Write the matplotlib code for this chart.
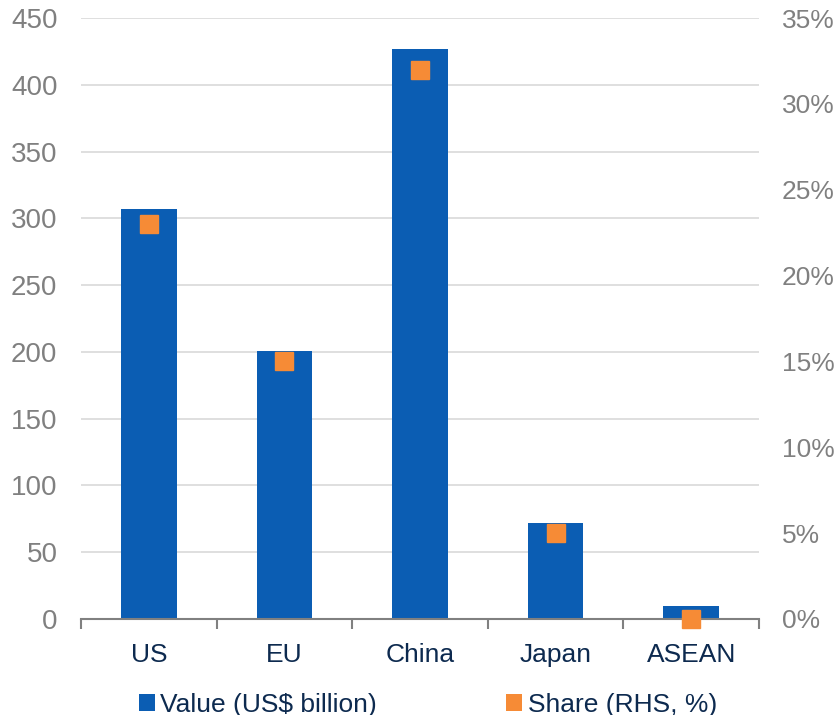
import matplotlib
matplotlib.use("Agg")
import matplotlib.pyplot as plt
from matplotlib.patches import Patch
import numpy as np

# data
categories = ['US', 'EU', 'China', 'Japan', 'ASEAN']
value_bn = [307, 201, 427, 72, 10]
share_pct = [23, 15, 32, 5, 0]

bar_color = '#0B5DB3'
share_color = '#F68B36'
grey = '#808080'
navy = '#0D2A4F'

plt.rcParams['font.family'] = ['Liberation Sans', 'DejaVu Sans']

fig = plt.figure(figsize=(8.36, 7.15), dpi=100)
W, H = 836, 715
ax = fig.add_axes([81 / W, (H - 619) / H, (759 - 81) / W, (619 - 18) / H])
ax2 = ax.twinx()

x = np.arange(len(categories))
ax.bar(x, value_bn, width=0.41, color=bar_color, zorder=2)
ax2.plot(x, share_pct, linestyle='none', marker='s', markersize=13.5,
         color=share_color, zorder=3, clip_on=False)

ax.set_xlim(-0.5, len(categories) - 0.5)
ax.set_ylim(0, 450)
ax.set_yticks(range(0, 451, 50))
ax2.set_ylim(0, 35)
ax2.set_yticks(range(0, 36, 5))
ax2.set_yticklabels([f'{v}%' for v in range(0, 36, 5)])

ax.grid(axis='y', color='#D9D9D9', linewidth=1.2, zorder=0)
ax.set_axisbelow(True)

for a in (ax, ax2):
    for s in ('top', 'left', 'right'):
        a.spines[s].set_visible(False)
ax2.spines['bottom'].set_visible(False)
ax.spines['bottom'].set_color(grey)
ax.spines['bottom'].set_linewidth(1.5)

ax.set_xticks(x)
ax.set_xticklabels(categories)
ax.set_xticks(np.arange(-0.5, len(categories), 1.0), minor=True)
ax.tick_params(axis='x', which='major', length=0, pad=17, labelsize=19, labelcolor=navy)
ax.tick_params(axis='x', which='minor', length=7, width=1.5, color=grey, direction='out')
ax.tick_params(axis='y', length=0, pad=17, labelsize=20, labelcolor=grey)
ax2.tick_params(axis='y', length=0, pad=16.5, labelsize=19, labelcolor=grey)

handles = [Patch(facecolor=bar_color, edgecolor='none'),
           Patch(facecolor=share_color, edgecolor='none')]
fig.legend(handles, ['Value (US$ billion)', 'Share (RHS, %)'],
           loc='lower center', bbox_to_anchor=(428 / W, -0.017), ncol=2,
           frameon=False, fontsize=19, labelcolor=navy,
           handlelength=0.6, handleheight=0.6, handletextpad=0.2,
           columnspacing=4.9, borderaxespad=0.0)

fig.savefig('out.png', dpi=100)
